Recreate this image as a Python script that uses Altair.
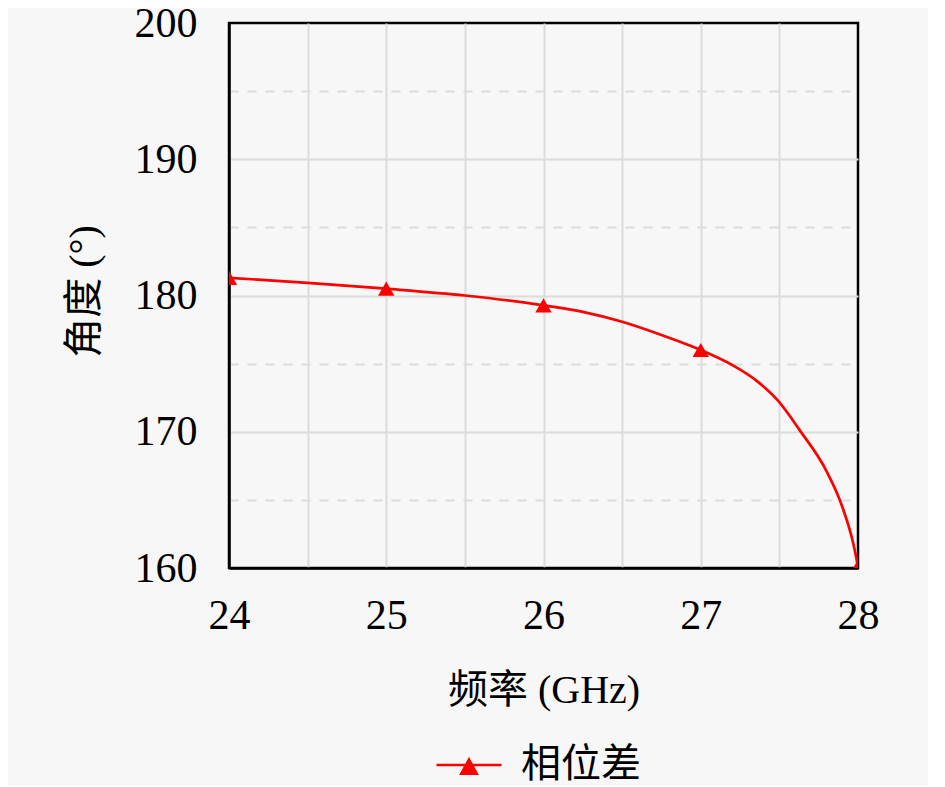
import altair as alt
import pandas as pd

# curve samples (GHz, degrees)
freq = [24, 24.5, 25, 25.5, 26, 26.25, 26.5, 26.75, 27, 27.2, 27.36, 27.49, 27.63, 27.8, 27.9, 27.97, 28]
phase = [181.3, 180.93, 180.5, 180.0, 179.28, 178.8, 178.07, 177.1, 176.0, 174.9, 173.7, 172.3, 170.1, 167.1, 164.5, 161.8, 160.1]
# marker positions
mk_freq = [24, 25, 26, 27, 28]
mk_phase = [181.3, 180.5, 179.28, 176.0, 160.1]
series_name = "相位差"

x_ticks = [24, 24.5, 25, 25.5, 26, 26.5, 27, 27.5, 28]
y_ticks = [160, 165, 170, 175, 180, 185, 190, 195, 200]

line_df = pd.DataFrame({"f": freq, "p": phase, "s": series_name})
mk_df = pd.DataFrame({"f": mk_freq, "p": mk_phase, "s": series_name})

RED = "#ff0000"
FONT = "Liberation Serif, Noto Sans CJK SC"

xenc = alt.X("f:Q", scale=alt.Scale(domain=[24, 28], nice=False, zero=False),
             axis=alt.Axis(values=x_ticks, title="频率 (GHz)",
                           labelExpr="datum.value % 1 === 0 ? format(datum.value, 'd') : ''",
                           labelOverlap=False, labelFlush=False,
                           labelPadding=27, ticks=False,
                           gridOpacity={"condition": {"test": "datum.value == 24 || datum.value == 28", "value": 0}, "value": 1},
                           titleY=122, titleBaseline="middle"))
yenc = alt.Y("p:Q", scale=alt.Scale(domain=[160, 200], nice=False, zero=False),
             axis=alt.Axis(values=y_ticks, title="角度 (°)",
                           labelExpr="datum.value % 10 === 0 ? format(datum.value, 'd') : ''",
                           labelOverlap=False, labelFlush=False,
                           labelPadding=32, ticks=False,
                           gridDash={"condition": {"test": "datum.value % 10 != 0", "value": [9, 9]}, "value": []},
                           gridOpacity={"condition": {"test": "datum.value == 160 || datum.value == 200", "value": 0}, "value": 1},
                           titleX=-145, titleY=268, titleBaseline="middle", titleAngle=270))

color = alt.Color("s:N", scale=alt.Scale(domain=[series_name], range=[RED]),
                  legend=alt.Legend(title=None, orient="none", legendX=206, legendY=708,
                                    symbolType="M-1,0L1,0M0,-0.17L0.24,0.27L-0.24,0.27Z",
                                    symbolSize=4225, symbolStrokeWidth=2.5,
                                    symbolFillColor=RED, symbolStrokeColor=RED,
                                    labelFont=FONT, labelFontSize=40, labelColor="black",
                                    labelOffset=18, padding=0))

line = alt.Chart(line_df).mark_line(strokeWidth=2.7, interpolate="monotone", clip=True).encode(
    x=xenc, y=yenc, color=color)
pts = alt.Chart(mk_df).mark_point(shape="triangle-up", filled=True, size=270, opacity=1, clip=True).encode(
    x="f:Q", y="p:Q", color=alt.Color("s:N", legend=None))

chart = alt.layer(line, pts).properties(
    width=629, height=545,
    autosize=alt.AutoSizeParams(type="none"),
    padding={"left": 221, "top": 15, "right": 70, "bottom": 218},
    background="#f7f7f7",
).configure_view(
    stroke="black", strokeWidth=2.5, fill="#f7f7f7"
).configure_axis(
    labelFont=FONT, labelFontSize=42, labelColor="black",
    titleFont=FONT, titleFontSize=40, titleColor="black", titleFontWeight="normal",
    gridColor="#dcdcdc", gridWidth=2,
    domainColor="black", domainWidth=2.5,
)

chart.save("out.html", embed_options={"renderer": "svg", "actions": False})
